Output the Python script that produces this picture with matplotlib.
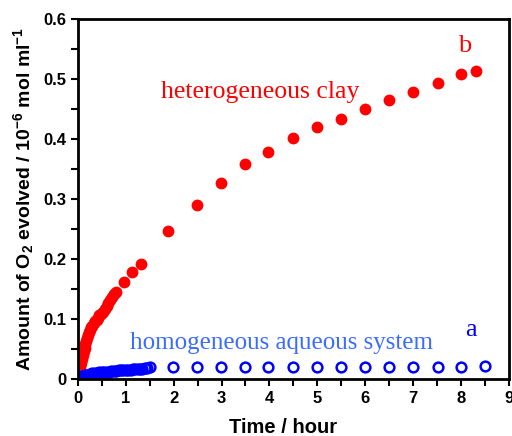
import numpy as np
import matplotlib
matplotlib.use('Agg')
import matplotlib.pyplot as plt
from matplotlib.ticker import MultipleLocator

plt.rcParams['font.family'] = 'Liberation Sans'
plt.rcParams['mathtext.fontset'] = 'custom'
plt.rcParams['mathtext.rm'] = 'Liberation Sans'
plt.rcParams['mathtext.bf'] = 'Liberation Sans:bold'
plt.rcParams['mathtext.default'] = 'bf'

# heterogeneous clay (b)
clay_t = [0.0, 0.02, 0.04, 0.06, 0.08, 0.10, 0.12, 0.14, 0.16, 0.18, 0.20, 0.22,
          0.24, 0.26, 0.28, 0.30, 0.33, 0.36, 0.39, 0.42, 0.45, 0.48, 0.52, 0.56,
          0.60, 0.64, 0.68, 0.72, 0.76, 0.80, 0.97, 1.13, 1.31, 1.88, 2.48, 2.99,
          3.48, 3.97, 4.49, 5.0, 5.49, 6.0, 6.49, 6.99, 7.51, 8.0, 8.32]
clay_y = [0.005, 0.012, 0.020, 0.027, 0.034, 0.040, 0.046, 0.052, 0.058, 0.063,
          0.068, 0.073, 0.078, 0.082, 0.086, 0.089, 0.093, 0.096, 0.099, 0.102,
          0.106, 0.109, 0.112, 0.117, 0.122, 0.127, 0.132, 0.137, 0.141, 0.145,
          0.161, 0.178, 0.192, 0.246, 0.290, 0.327, 0.358, 0.379, 0.401, 0.420,
          0.434, 0.451, 0.466, 0.478, 0.493, 0.508, 0.514]

# homogeneous aqueous system (a)
aq_t = [0.0, 0.03, 0.06, 0.09, 0.12, 0.15, 0.2, 0.25, 0.3, 0.35, 0.4, 0.45, 0.5,
        0.55, 0.6, 0.65, 0.7, 0.75, 0.8, 0.85, 0.9, 0.95, 1.0, 1.05, 1.1, 1.15,
        1.2, 1.25, 1.3, 1.35, 1.4, 1.45, 1.5, 1.98, 2.48, 2.99, 3.48, 3.98, 4.49,
        5.0, 5.49, 6.0, 6.49, 6.99, 7.51, 8.0, 8.51]
aq_y = [0.000, 0.002, 0.003, 0.004, 0.005, 0.006, 0.007, 0.008, 0.009, 0.010,
        0.010, 0.011, 0.011, 0.012, 0.012, 0.012, 0.013, 0.013, 0.013, 0.014,
        0.014, 0.014, 0.015, 0.015, 0.015, 0.016, 0.016, 0.016, 0.017, 0.017,
        0.018, 0.018, 0.019, 0.019, 0.019, 0.019, 0.019, 0.019, 0.019, 0.019,
        0.019, 0.019, 0.019, 0.0205, 0.020, 0.019, 0.021]

fig = plt.figure(figsize=(5.12, 4.36), dpi=100)
ax = fig.add_axes([0.152, 0.131, 0.842, 0.825])

ax.plot(clay_t, clay_y, 'o', color='#ff0000', markersize=8.5, markeredgewidth=0)
ax.plot(aq_t, aq_y, 'o', mfc='none', mec='#0000ff', markersize=7, markeredgewidth=1.8)

ax.set_xlim(0, 9)
ax.set_ylim(0, 0.6)
ax.xaxis.set_major_locator(MultipleLocator(1))
ax.xaxis.set_minor_locator(MultipleLocator(0.5))
ax.yaxis.set_major_locator(MultipleLocator(0.1))
ax.yaxis.set_minor_locator(MultipleLocator(0.05))
ax.yaxis.set_major_formatter(plt.FuncFormatter(lambda v, p: '0' if abs(v) < 1e-9 else '%.1f' % v))

for s in ax.spines.values():
    s.set_linewidth(2)
ax.tick_params(which='both', direction='out', width=1.5, length=5, labelsize=12)
for lab in ax.get_xticklabels() + ax.get_yticklabels():
    lab.set_fontweight('bold')

ax.set_xlabel('Time / hour', fontsize=14.5, fontweight='bold')
ax.xaxis.set_label_coords(0.476, -0.11)
ax.set_ylabel(r'Amount of O$_2$ evolved / 10$^{-6}$ mol ml$^{-1}$', fontsize=14,
              fontweight='bold', labelpad=5)

ax.text(1.73, 0.478, 'heterogeneous clay', color='#ff0000', fontsize=18.5,
        family='Liberation Serif', va='center', ha='left')
ax.text(8.07, 0.555, 'b', color='#ff0000', fontsize=19, family='Liberation Serif',
        va='center', ha='center')
ax.text(1.09, 0.06, 'homogeneous aqueous system', color='#3a6cff', fontsize=18,
        family='Liberation Serif', va='center', ha='left')
ax.text(8.2, 0.082, 'a', color='#0000ff', fontsize=19, family='Liberation Serif',
        va='center', ha='center')

fig.savefig('out.png', dpi=100)
